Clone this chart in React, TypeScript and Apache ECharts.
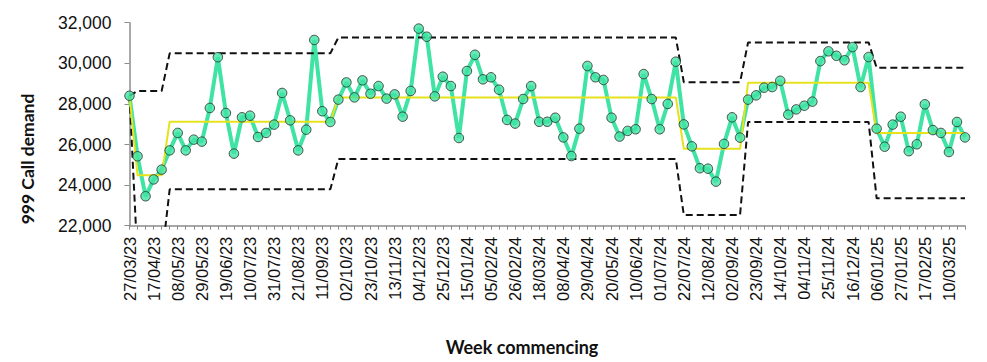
import React, { useEffect, useRef } from "react";
import * as echarts from "echarts";

const weeks: string[] = [
  "27/03/23","03/04/23","10/04/23","17/04/23","24/04/23","01/05/23","08/05/23","15/05/23","22/05/23","29/05/23",
  "05/06/23","12/06/23","19/06/23","26/06/23","03/07/23","10/07/23","17/07/23","24/07/23","31/07/23","07/08/23",
  "14/08/23","21/08/23","28/08/23","04/09/23","11/09/23","18/09/23","25/09/23","02/10/23","09/10/23","16/10/23",
  "23/10/23","30/10/23","06/11/23","13/11/23","20/11/23","27/11/23","04/12/23","11/12/23","18/12/23","25/12/23",
  "01/01/24","08/01/24","15/01/24","22/01/24","29/01/24","05/02/24","12/02/24","19/02/24","26/02/24","04/03/24",
  "11/03/24","18/03/24","25/03/24","01/04/24","08/04/24","15/04/24","22/04/24","29/04/24","06/05/24","13/05/24",
  "20/05/24","27/05/24","03/06/24","10/06/24","17/06/24","24/06/24","01/07/24","08/07/24","15/07/24","22/07/24",
  "29/07/24","05/08/24","12/08/24","19/08/24","26/08/24","02/09/24","09/09/24","16/09/24","23/09/24","30/09/24",
  "07/10/24","14/10/24","21/10/24","28/10/24","04/11/24","11/11/24","18/11/24","25/11/24","02/12/24","09/12/24",
  "16/12/24","23/12/24","30/12/24","06/01/25","13/01/25","20/01/25","27/01/25","03/02/25","10/02/25","17/02/25",
  "24/02/25","03/03/25","10/03/25","17/03/25","24/03/25",
];

const demand: number[] = [
  28400, 25420, 23450, 24280, 24760, 25710, 26570, 25710, 26240, 26140,
  27800, 30300, 27550, 25550, 27340, 27420, 26370, 26570, 26980, 28540,
  27190, 25710, 26730, 31150, 27640, 27110, 28210, 29060, 28320, 29160,
  28500, 28880, 28260, 28470, 27370, 28640, 31710, 31310, 28370, 29340,
  28880, 26320, 29620, 30420, 29210, 29310, 28700, 27210, 27030, 28240,
  28880, 27120, 27120, 27320, 26350, 25430, 26780, 29870, 29310, 29180,
  27320, 26390, 26670, 26750, 29470, 28240, 26750, 28000, 30080, 26990,
  25910, 24830, 24810, 24170, 26030, 27340, 26340, 28210, 28420, 28800,
  28830, 29140, 27470, 27730, 27910, 28110, 30110, 30590, 30370, 30150,
  30800, 28830, 30310, 26780, 25890, 26980, 27370, 25670, 26010, 27980,
  26710, 26570, 25630, 27110, 26350,
];

// Phases (last index of each phase) and their mean / control limits
const phaseEnds: number[] = [0, 4, 25, 68, 76, 92, 104];
const phaseMean: number[] = [28400, 24480, 27120, 28320, 25790, 29045, 26570];
const phaseUCL: number[] = [28400, 28635, 30490, 31270, 29065, 31030, 29780];
const phaseLCL: number[] = [28400, 20330, 23790, 25290, 22525, 27110, 23350];

const yTicks = { min: 22000, max: 32000, interval: 2000 };
const xTitle = "Week commencing";
const yTitle = "999 Call demand";

function perPoint(vals: number[]): number[] {
  const out: number[] = [];
  let p = 0;
  for (let i = 0; i < weeks.length; i++) {
    while (i > phaseEnds[p]) p++;
    out.push(vals[p]);
  }
  return out;
}

export default function App() {
  const ref = useRef<HTMLDivElement>(null);
  useEffect(() => {
    if (!ref.current) return;
    const chart = echarts.init(ref.current, null, { renderer: "svg" });
    const green = "#3FE3A3";
    const dash = { color: "#111", width: 2, type: [7, 4] as any };
    chart.setOption({
      animation: false,
      textStyle: { fontFamily: "Liberation Sans" },
      grid: { left: 129.5, right: 22, top: 22.7, bottom: 136.3, containLabel: false },
      graphic: [
        {
          type: "text",
          x: 522,
          y: 347,
          style: {
            text: xTitle,
            font: "bold 18px Lato",
            fill: "#111",
            textAlign: "center",
            textVerticalAlign: "middle",
          },
        },
        {
          type: "text",
          x: 27,
          y: 159,
          rotation: Math.PI / 2,
          style: {
            text: yTitle,
            font: "bold 17.5px Lato",
            fill: "#111",
            textAlign: "center",
            textVerticalAlign: "middle",
          },
        },
      ],
      xAxis: {
        type: "category",
        data: weeks,
        boundaryGap: false,
        axisLine: { lineStyle: { color: "#8c8c8c", width: 1.5 } },
        axisTick: { interval: 0, length: 4, lineStyle: { color: "#8c8c8c" } },
        axisLabel: { interval: 2, rotate: 90, fontSize: 16.5, color: "#111", margin: 11 },
      },
      yAxis: {
        type: "value",
        min: yTicks.min,
        max: yTicks.max,
        interval: yTicks.interval,
        axisLine: { show: true, lineStyle: { color: "#8c8c8c", width: 1.5 } },
        axisTick: { show: true, length: 5, lineStyle: { color: "#8c8c8c" } },
        splitLine: { show: false },
        axisLabel: {
          fontSize: 17.5,
          color: "#111",
          margin: 18,
          formatter: (v: number) => v.toLocaleString("en-US"),
        },
      },
      series: [
        {
          type: "line",
          data: demand,
          showSymbol: false,
          symbol: "none",
          lineStyle: { color: green, width: 4 },
          z: 1,
        },
        {
          type: "line",
          data: perPoint(phaseUCL),
          symbol: "none",
          lineStyle: dash,
          z: 2,
        },
        {
          type: "line",
          data: perPoint(phaseLCL),
          symbol: "none",
          lineStyle: dash,
          z: 2,
        },
        {
          type: "line",
          data: perPoint(phaseMean),
          symbol: "none",
          lineStyle: { color: "#E6E21C", width: 2 },
          z: 3,
        },
        {
          type: "scatter",
          data: demand,
          symbol: "circle",
          symbolSize: 9.5,
          itemStyle: { color: green, borderColor: "#2a2a2a", borderWidth: 1 },
          z: 4,
        },
      ],
    });
    return () => chart.dispose();
  }, []);
  return (
    <div
      ref={ref}
      style={{ position: "fixed", left: 0, top: 0, width: 987, height: 362, background: "#fff" }}
    />
  );
}
